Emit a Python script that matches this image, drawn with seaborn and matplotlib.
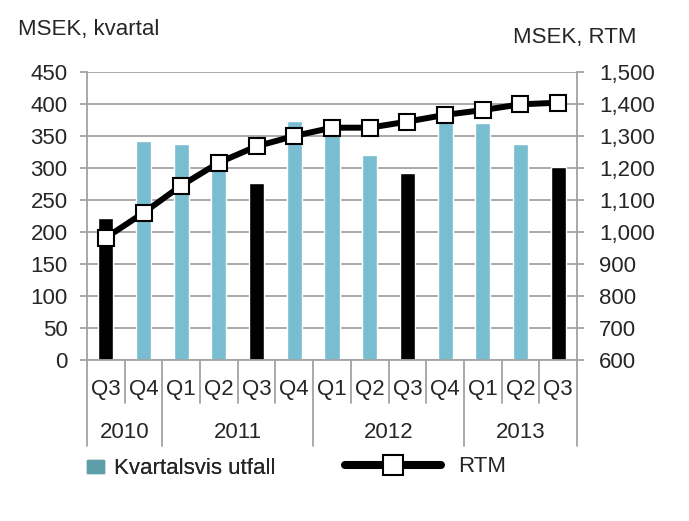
import numpy as np
import pandas as pd
import matplotlib
matplotlib.use("Agg")
import matplotlib.pyplot as plt
import matplotlib.transforms as mtransforms
from matplotlib.patches import Patch
from matplotlib.lines import Line2D
from matplotlib.ticker import FuncFormatter
import seaborn as sns

# data
quarters = ["Q3", "Q4", "Q1", "Q2", "Q3", "Q4", "Q1", "Q2", "Q3", "Q4", "Q1", "Q2", "Q3"]
years = ["2010", "2011", "2012", "2013"]
year_len = [2, 4, 4, 3]
kvartal = [222, 342, 337, 305, 276, 373, 364, 320, 292, 380, 371, 338, 302]
rtm = [982, 1060, 1145, 1217, 1268, 1300, 1326, 1326, 1345, 1366, 1381, 1399, 1404]

blue = "#78bdd0"
legend_blue = "#5e9ea9"
grey = "#a3a3a3"

sns.set_theme(style="white")
plt.rcParams["font.family"] = ["Liberation Sans", "DejaVu Sans"]
fs = 16

year_of = []
for y, n in zip(years, year_len):
    year_of += [y] * n
ids = [f"{y} {q}" for y, q in zip(year_of, quarters)]
df = pd.DataFrame({"id": ids, "kvartal": kvartal, "rtm": rtm, "q": quarters})
colors = {i: ("black" if q == "Q3" else blue) for i, q in zip(ids, quarters)}

fig = plt.figure(figsize=(6.89, 5.21), dpi=100)
ax = fig.add_axes([87 / 689, 1 - 360 / 521, 490 / 689, 288 / 521])

sns.barplot(data=df, x="id", y="kvartal", hue="id", palette=colors, width=0.4,
            saturation=1, legend=False, ax=ax)
ax.set_xlim(-0.5, 12.5)
ax.set_ylim(0, 450)
ax.set_yticks(range(0, 451, 50))
ax.yaxis.grid(True, color=grey, lw=1.3)
ax.set_axisbelow(True)
ax.set_xlabel("")
ax.set_ylabel("")
for s in ["top", "right"]:
    ax.spines[s].set_visible(False)
for s in ["left", "bottom"]:
    ax.spines[s].set_color(grey)
    ax.spines[s].set_linewidth(1.3)
ax.tick_params(axis="y", left=True, length=5, width=1.3, color=grey, pad=9, labelsize=fs)
ax.set_xticks([])

# category labels (two levels)
trans = mtransforms.blended_transform_factory(ax.transData, ax.transAxes)
for i, q in enumerate(quarters):
    ax.text(i, -0.104, q, transform=trans, ha="center", va="center", fontsize=fs)
start = 0
bounds = [0]
for y, n in zip(years, year_len):
    ax.text(start + (n - 1) / 2, -0.253, y, transform=trans, ha="center", va="center", fontsize=fs)
    start += n
    bounds.append(start)
for b in range(14):
    ybot = -0.299 if b in bounds else -0.149
    ax.plot([b - 0.5, b - 0.5], [0, ybot], transform=trans, clip_on=False, color=grey, lw=1.3)

# RTM line on the right axis
ax2 = ax.twinx()
sns.lineplot(x=np.arange(len(rtm)), y=rtm, ax=ax2, color="black", lw=4.3, marker="s",
             markersize=11.5, markerfacecolor="white", markeredgecolor="black",
             markeredgewidth=1.5, zorder=5)
ax2.set_xlim(-0.5, 12.5)
ax2.set_ylim(600, 1500)
ax2.set_yticks(range(600, 1501, 100))
ax2.yaxis.set_major_formatter(FuncFormatter(lambda v, p: f"{int(v):,}"))
ax2.set_ylabel("")
for s in ["top", "left", "bottom"]:
    ax2.spines[s].set_visible(False)
ax2.spines["right"].set_color(grey)
ax2.spines["right"].set_linewidth(1.3)
ax2.tick_params(axis="y", right=True, length=5, width=1.3, color=grey, pad=11, labelsize=fs)

fig.text(18 / 689, 1 - 30 / 521, "MSEK, kvartal", ha="left", va="center", fontsize=fs)
fig.text(513 / 689, 1 - 37 / 521, "MSEK, RTM", ha="left", va="center", fontsize=fs)

# legends
leg1 = fig.legend(handles=[Patch(color=legend_blue, label="Kvartalsvis utfall")],
                  loc="center left", bbox_to_anchor=(87 / 689, 1 - 469 / 521),
                  frameon=False, fontsize=fs, handlelength=0.77, handleheight=0.55,
                  handletextpad=0.45, borderpad=0, borderaxespad=0)
leg2 = fig.legend(handles=[Line2D([], [], color="black", lw=5.8, marker="s", markersize=15,
                                  markerfacecolor="white", markeredgecolor="black",
                                  markeredgewidth=1.5, label="RTM")],
                  loc="center left", bbox_to_anchor=(345 / 689, 1 - 467 / 521),
                  frameon=False, fontsize=fs, handlelength=4.3, handletextpad=0.77,
                  borderpad=0, borderaxespad=0)
fig.add_artist(leg1)

fig.savefig("out.png", dpi=100)
